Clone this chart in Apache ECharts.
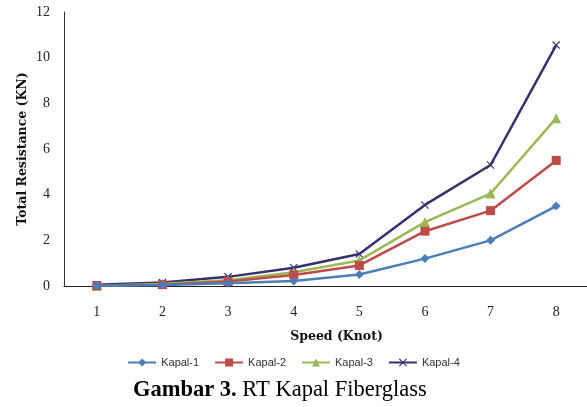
<!DOCTYPE html>
<html><head><meta charset="utf-8">
<script src="https://cdn.jsdelivr.net/npm/echarts@6/dist/echarts.min.js"></script>
<style>html,body{margin:0;padding:0;background:#fff;}#c{width:587px;height:407px;}</style>
</head><body><div id="c"></div>
<script>
var categories = ['1','2','3','4','5','6','7','8'];
var kapal1 = [0.01, 0.04, 0.12, 0.22, 0.5, 1.2, 2.0, 3.5];
var kapal2 = [0.02, 0.06, 0.2, 0.48, 0.9, 2.4, 3.3, 5.5];
var kapal3 = [0.0, 0.1, 0.25, 0.6, 1.12, 2.8, 4.05, 7.35];
var kapal4 = [0.05, 0.15, 0.4, 0.8, 1.4, 3.55, 5.3, 10.55];
var seriesNames = ['Kapal-1','Kapal-2','Kapal-3','Kapal-4'];
var colors = ['#4a7ebb','#be4b48','#98b954','#35306e'];
var symbols = ['diamond','rect','triangle','path://M1,0L5,4L9,0L10,1L6,5L10,9L9,10L5,6L1,10L0,9L4,5L0,1Z'];
var symbolSizes = [9, 9, 10, 8];
var datas = [kapal1, kapal2, kapal3, kapal4];

var chart = echarts.init(document.getElementById('c'), null, {renderer:'canvas'});
var series = datas.map(function(d, i){
  return {
    name: seriesNames[i], type: 'line', data: d,
    symbol: symbols[i], symbolSize: symbolSizes[i],
    lineStyle: {color: colors[i], width: 2.5},
    itemStyle: {color: colors[i]},
    z: 10 - i
  };
});
chart.setOption({
  animation: false,
  backgroundColor: '#fff',
  color: colors,
  grid: {left: 64, right: -2, top: 12, bottom: 121, containLabel: false, outerBoundsMode: 'none'},
  xAxis: {
    type: 'category', data: categories, boundaryGap: true,
    name: 'Speed (Knot)', nameLocation: 'middle', nameGap: 44, nameMoveOverlap: false,
    nameTextStyle: {fontFamily: 'DejaVu Serif', fontWeight: 'bold', fontSize: 12.5, color: '#111', padding: [0, 0, 0, 20]},
    axisLine: {lineStyle: {color: '#222', width: 1.2}},
    axisTick: {show: false},
    axisLabel: {fontFamily: 'Liberation Serif', fontSize: 14, color: '#222', margin: 19}
  },
  yAxis: {
    type: 'value', min: 0, max: 12, interval: 2,
    name: 'Total Resistance (KN)', nameLocation: 'middle', nameGap: 35, nameMoveOverlap: false,
    nameTextStyle: {fontFamily: 'DejaVu Serif', fontWeight: 'bold', fontSize: 12.5, color: '#111'},
    axisLine: {show: true, lineStyle: {color: '#333', width: 1}},
    axisTick: {show: false},
    splitLine: {show: false},
    axisLabel: {fontFamily: 'Liberation Serif', fontSize: 14, color: '#222', margin: 14}
  },
  legend: {
    top: 352, left: 'center', itemWidth: 28, itemHeight: 10, itemGap: 15,
    textStyle: {fontFamily: 'Liberation Sans', fontSize: 11, color: '#333'},
    data: seriesNames
  },
  title: {
    text: '{b|Gambar 3.} RT Kapal Fiberglass',
    left: 128, top: 374,
    textStyle: {fontFamily: 'Liberation Serif', fontSize: 22.5, fontWeight: 'normal', color: '#000',
      rich: {b: {fontFamily: 'Liberation Serif', fontSize: 22.5, fontWeight: 'bold', color: '#000'}}}
  },
  series: series
});
</script></body></html>
